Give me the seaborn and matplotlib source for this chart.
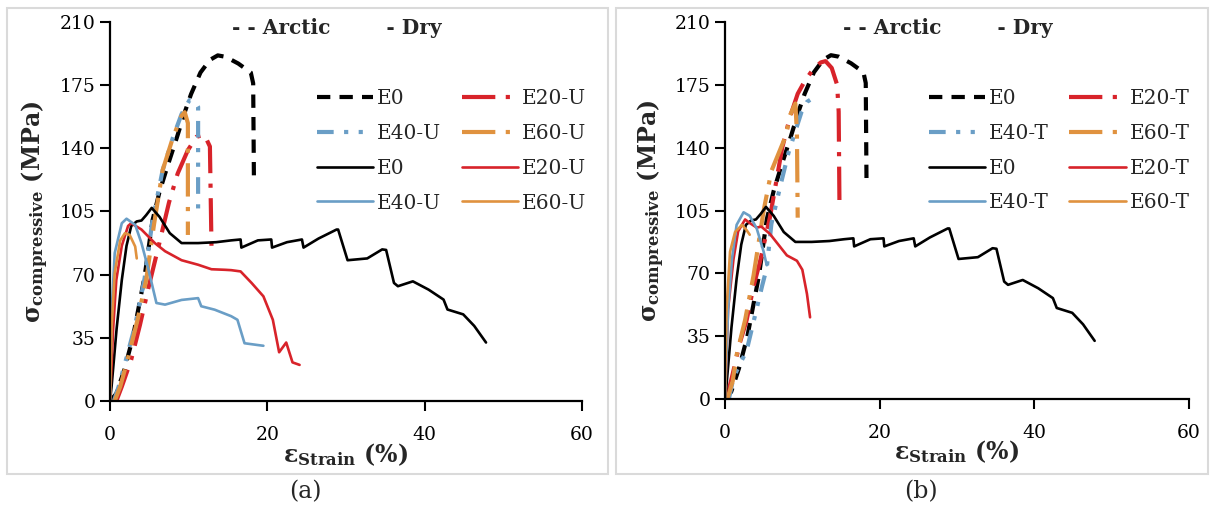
import matplotlib
matplotlib.use('Agg')
import matplotlib.pyplot as plt
from matplotlib.patches import Rectangle
import seaborn as sns

# ---- data ----
# shared curves (same E0 in both panels)
arctic_e0_x = [0, 0.8, 1.8, 2.9, 4.4, 5.4, 6.3, 7.3, 8.5, 9.5, 10.3, 11.5, 12.7, 13.7, 14.7, 16.3, 17.9, 18.2, 18.3]
arctic_e0_y = [0, 4, 17, 35, 69, 100, 116, 130, 146, 160, 170, 182, 189, 191.5, 190.7, 187, 182, 176, 120]

dry_e0_x = [0, 0.2, 0.84, 1.5, 2.1, 2.7, 3.4, 4.0, 4.6, 5.3, 6.3, 7.6, 9.1, 11.2, 13.5, 15.4, 16.6, 16.7,
            18.8, 20.5, 20.6, 22.5, 24.4, 24.6, 26.5, 28.8, 29.0, 30.2, 32.7, 34.6, 35.1, 36.1, 36.6,
            38.5, 40.5, 42.4, 42.9, 44.9, 46.3, 47.8]
dry_e0_y = [0, 8, 40, 67, 86, 97, 99.5, 100, 103, 107, 102, 93, 87.5, 87.5, 88, 89, 89.5, 85,
            89, 89.5, 85, 88, 89.5, 85, 90, 95, 95, 78, 79, 84, 83.7, 65.4, 63.6,
            66.3, 61.7, 56.2, 50.7, 48, 41.6, 32.4]

# panel (a) - untreated
arctic_e20u_x = [0.8, 1.5, 2.7, 3.8, 4.9, 6.3, 7.5, 8.6, 9.9, 11.0, 12.0, 12.7, 12.9]
arctic_e20u_y = [0, 8, 23, 42, 63, 88, 110, 126, 139, 146.4, 147.5, 141, 86]
arctic_e40u_x = [0.5, 1.1, 2.1, 3.2, 4.4, 5.4, 6.7, 8.0, 9.1, 10.1, 10.8, 11.2, 11.2]
arctic_e40u_y = [0, 8, 24, 42, 68, 100, 128, 146, 159, 166.7, 166, 163, 102]
arctic_e60u_x = [0.6, 1.3, 2.3, 3.5, 4.6, 5.6, 6.7, 8.0, 9.1, 9.5, 9.9, 9.9]
arctic_e60u_y = [0, 8, 24, 45, 67, 98, 128, 146, 158, 160, 154, 92]

dry_e20u_x = [0, 0.4, 0.8, 1.5, 2.3, 2.7, 4.0, 5.7, 7.0, 9.1, 11.2, 12.9, 14.6, 15.4, 16.6, 18.0,
              19.5, 20.7, 21.5, 22.4, 23.2, 24.1]
dry_e20u_y = [0, 40, 67, 86, 97, 98.5, 95, 87.5, 83, 78, 75.5, 73, 72.7, 72.5, 71.8, 65.4,
              58, 45, 27, 32.4, 21.4, 20]
dry_e40u_x = [0, 0.2, 0.6, 1.5, 2.1, 3.2, 4.0, 4.9, 5.9, 7.0, 9.1, 11.2, 11.6, 13.3, 15.4, 16.2, 17.1, 18.8, 19.5]
dry_e40u_y = [0, 49, 82, 98.5, 101, 97.6, 87.5, 72.7, 54.3, 53.4, 56, 57, 52.5, 50.6, 47, 45, 32, 31, 30.6]
dry_e60u_x = [0, 0.2, 0.6, 1.3, 1.9, 2.5, 3.2, 3.4]
dry_e60u_y = [0, 40, 71, 89, 93, 92, 85.6, 79]

# panel (b) - treated
arctic_e20t_x = [0.2, 1.0, 1.9, 2.8, 3.7, 4.5, 5.8, 6.5, 7.4, 8.4, 9.4, 10.3, 11.2, 11.7, 12.4, 13.0, 13.8, 14.5, 14.7, 14.8]
arctic_e20t_y = [0, 14, 31, 44, 63, 76, 101, 118, 140, 157, 170, 177, 182.5, 185, 187.5, 188.2, 184.4, 175, 160, 109]
arctic_e40t_x = [0.5, 1.1, 2.0, 2.8, 3.8, 4.8, 5.4, 6.0, 7.4, 8.2, 9.9, 10.6, 11.5, 12.1]
arctic_e40t_y = [0, 12, 20, 27, 45, 63, 73, 97.6, 123, 137, 160, 165.5, 168, 167]
arctic_e60t_x = [0.3, 1.0, 1.5, 2.6, 3.7, 5.0, 6.0, 7.9, 8.4, 9.1, 9.3, 9.4]
arctic_e60t_y = [0, 10, 24.5, 44, 69, 105, 127, 147, 158, 164.6, 148.5, 101]

dry_e20t_x = [0, 0.4, 1.1, 1.7, 2.6, 3.2, 4.1, 4.7, 5.8, 6.9, 8.0, 9.3, 10.0, 10.6, 11.0]
dry_e20t_y = [0, 50, 78, 93.4, 100, 98, 95.5, 96, 92, 86, 80, 77, 72, 58.5, 45.5]
dry_e40t_x = [0, 0.4, 0.9, 1.5, 2.4, 3.2, 4.1, 5.0, 5.4]
dry_e40t_y = [0, 50, 78, 97, 104, 102, 95, 82, 74.5]
dry_e60t_x = [0, 0.2, 0.65, 1.3, 2.2, 2.8, 3.2]
dry_e60t_y = [0, 50, 82, 93, 97, 94, 91.5]

labels_a = ['E0', 'E20-U', 'E40-U', 'E60-U']
labels_b = ['E0', 'E20-T', 'E40-T', 'E60-T']

# ---- style ----
sns.set_style('ticks')
plt.rcParams['font.family'] = ['DejaVu Serif']
plt.rcParams['mathtext.fontset'] = 'dejavuserif'

colors = ['black', '#D8232A', '#6A9EC6', '#E0923F']
arctic_ls = [(0, (3.2, 2.2)), (0, (8, 2.5, 1, 2.5)), (0, (4, 2.5, 1, 2.5, 1, 2.5)), (0, (8, 2.5, 1, 2.5))]

fig = plt.figure(figsize=(12.13, 5.13), dpi=100)

# light grey frames round each panel
for x0, x1 in [(7, 608), (616, 1208)]:
    fig.patches.append(Rectangle((x0 / 1213, 1 - 474 / 513), (x1 - x0) / 1213, (474 - 8) / 513,
                                 transform=fig.transFigure, fill=False, edgecolor='#DADADA', lw=1.5))

ax_a = fig.add_axes([110 / 1213, 1 - 401 / 513, 472 / 1213, 379 / 513])
ax_b = fig.add_axes([725 / 1213, 1 - 399 / 513, 464 / 1213, 377 / 513])


def draw_panel(ax, arctic, dry, labels):
    handles = []
    for (x, y), c, ls in zip(arctic, colors, arctic_ls):
        sns.lineplot(x=x, y=y, ax=ax, sort=False, estimator=None, color=c, lw=3.0)
        ln = ax.lines[-1]
        ln.set_linestyle(ls)
        handles.append(ln)
    for (x, y), c in zip(dry, colors):
        sns.lineplot(x=x, y=y, ax=ax, sort=False, estimator=None, color=c, lw=1.9)
        handles.append(ax.lines[-1])
    names = labels + labels
    # legend fills column-wise: col1 E0, E40, E0, E40 / col2 E20, E60, E20, E60
    order = [0, 2, 4, 6, 1, 3, 5, 7]
    ax.legend([handles[i] for i in order], [names[i] for i in order], ncol=2, frameon=False,
              loc='upper left', bbox_to_anchor=(0.40, 0.87), fontsize=14.5,
              handlelength=2.8, handletextpad=0.2, columnspacing=1.0, labelspacing=0.78)

    ax.set_xlim(0, 60)
    ax.set_ylim(0, 210)
    ax.set_xticks([0, 20, 40, 60])
    ax.set_yticks([0, 35, 70, 105, 140, 175, 210])
    ax.tick_params(axis='both', labelsize=13.5, direction='out', length=7, width=1.5, colors='black')
    ax.tick_params(axis='x', pad=11)
    for s in ['top', 'right']:
        ax.spines[s].set_visible(False)
    for s in ['left', 'bottom']:
        ax.spines[s].set_linewidth(1.6)
        ax.spines[s].set_color('black')
    ax.set_xlabel(r'ε$_{\mathbf{Strain}}$ (%)', fontsize=17, fontweight='bold')
    ax.set_ylabel(r'σ$_{\mathbf{compressive}}$ (MPa)', fontsize=17, fontweight='bold')
    ax.xaxis.set_label_coords(0.5, -0.105)
    ax.yaxis.set_label_coords(-0.125, 0.5)
    ax.text(0.48, 0.985, '- - Arctic        - Dry', transform=ax.transAxes, ha='center', va='center',
            fontsize=14.5, fontweight='bold')


draw_panel(ax_a,
           [(arctic_e0_x, arctic_e0_y), (arctic_e20u_x, arctic_e20u_y),
            (arctic_e40u_x, arctic_e40u_y), (arctic_e60u_x, arctic_e60u_y)],
           [(dry_e0_x, dry_e0_y), (dry_e20u_x, dry_e20u_y),
            (dry_e40u_x, dry_e40u_y), (dry_e60u_x, dry_e60u_y)],
           labels_a)
draw_panel(ax_b,
           [(arctic_e0_x, arctic_e0_y), (arctic_e20t_x, arctic_e20t_y),
            (arctic_e40t_x, arctic_e40t_y), (arctic_e60t_x, arctic_e60t_y)],
           [(dry_e0_x, dry_e0_y), (dry_e20t_x, dry_e20t_y),
            (dry_e40t_x, dry_e40t_y), (dry_e60t_x, dry_e60t_y)],
           labels_b)

fig.text(305 / 1213, 1 - 492 / 513, '(a)', ha='center', va='center', fontsize=17)
fig.text(921 / 1213, 1 - 492 / 513, '(b)', ha='center', va='center', fontsize=17)

fig.savefig('out.png', dpi=100)
